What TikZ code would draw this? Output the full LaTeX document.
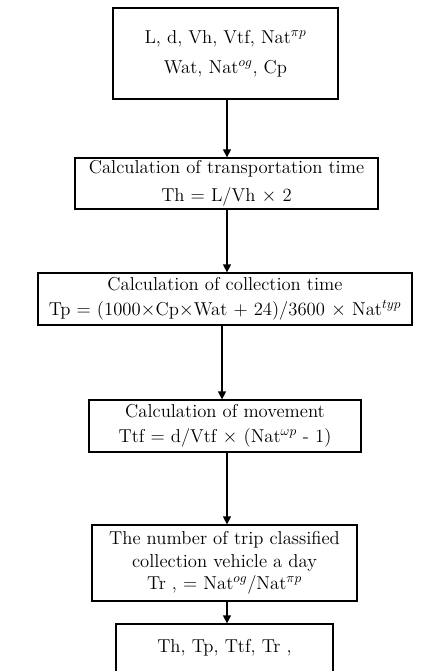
\documentclass[tikz,border=0pt]{standalone}
\usepackage{amsmath}
\usetikzlibrary{arrows.meta}
\tikzset{
  stepbox/.style={
    draw,
    rectangle,
    line width=0.9pt,
    inner sep=0pt,
    align=center,
    font=\fontsize{14}{17}\selectfont
  },
  flow/.style={
    -{Triangle[width=6pt,length=6pt]},
    line width=0.9pt
  }
}

\begin{document}
\begin{tikzpicture}[x=0.75pt, y=-0.75pt]
  \clip (0,0) rectangle (439,671);
  \coordinate (ax) at (227,0);
  \coordinate (bx) at (222,0);

  \node[stepbox, minimum width=168.8pt, minimum height=68.3pt] (input) at (225.5,53.5)
    {L,\ d,\ Vh,\ Vtf,\ Nat$^{\pi p}$\\[5.5pt] Wat,\ Nat$^{og}$,\ Cp};
  \node[stepbox, minimum width=227.3pt, minimum height=38.3pt] (trans) at (226.5,183.5)
    {Calculation of transportation time\\[4pt] Th = L/Vh $\times$ 2};
  \node[stepbox, minimum width=280.5pt, minimum height=39pt] (coll) at (225,299)
    {Calculation of collection time\\[1.75pt] Tp = (1000$\times$Cp$\times$Wat + 24)/3600 $\times$ Nat$^{typ}$};
  \node[stepbox, minimum width=204pt, minimum height=39pt] (move) at (225,426)
    {Calculation of movement\\[1.5pt] Ttf = d/Vtf $\times$ (Nat$^{\omega p}$ - 1)};
  \node[stepbox, minimum width=198.8pt, minimum height=57pt] (trip) at (224.5,563)
    {The number of trip classified\\ collection vehicle a day\\ Tr , = Nat$^{og}$/Nat$^{\pi p}$};
  \node[stepbox, minimum width=162.8pt, minimum height=36pt] (result) at (224.5,648)
    {Th,\ Tp,\ Ttf,\ Tr ,};

  \draw[flow] (input.south -| ax) -- (trans.north -| ax);
  \draw[flow] (trans.south -| ax) -- (coll.north -| ax);
  \draw[flow] (coll.south -| bx) -- (move.north -| bx);
  \draw[flow] (move.south -| ax) -- (trip.north -| ax);
  \draw[flow] (trip.south -| ax) -- (result.north -| ax);
\end{tikzpicture}
\end{document}
